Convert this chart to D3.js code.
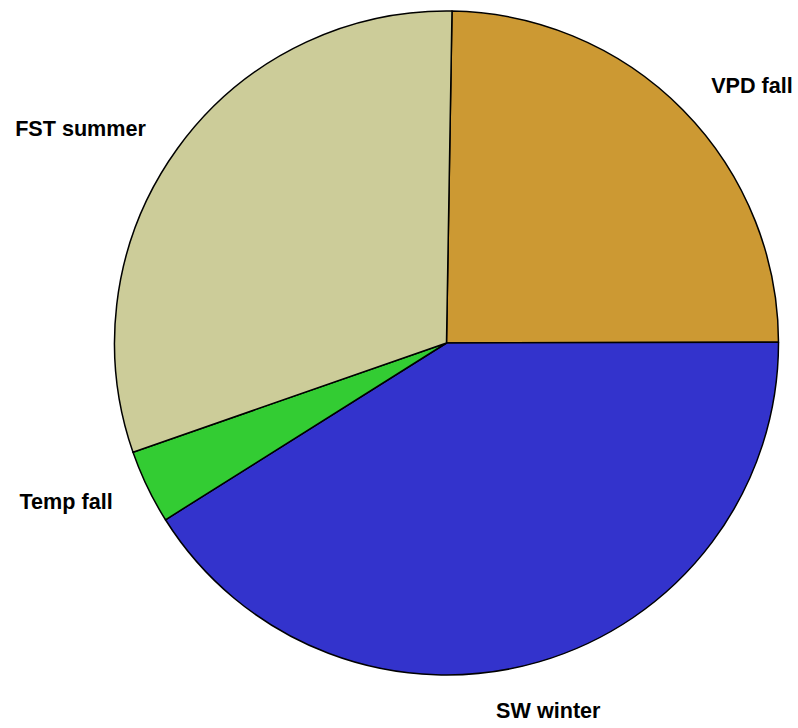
<html>
<head>
<script src="https://d3js.org/d3.v7.min.js"></script>
<style>
	body { margin: 0; background: white; }
	text { font-family: "Liberation Sans", Arial, sans-serif; font-weight: bold; font-size: 21.6px; }
</style>
</head>
<body>
<svg width=798 height=728></svg>
<script>
	// slices in drawing order, clockwise from 12 o'clock
	var labels = ["VPD fall", "SW winter", "Temp fall", "FST summer"];
	var values = [24.7, 41.1, 3.6, 30.6];
	var colors = ["#cc9933", "#3333cc", "#33cc33", "#cccc99"];

	var cx = 446.5, cy = 343, radius = 332, labelRadius = 366;
	var start = 0.95 * Math.PI / 180;

	var data = labels.map(function (d, i) { return { label: d, value: values[i], color: colors[i] }; });

	var pie = d3.pie().sort(null).value(function (d) { return d.value; })
		.startAngle(start).endAngle(start + 2 * Math.PI);
	var arc = d3.arc().innerRadius(0).outerRadius(radius);

	var g = d3.select("svg").append("g")
		.attr("transform", "translate(" + cx + "," + cy + ")");

	var arcs = pie(data);

	g.selectAll("path").data(arcs).enter().append("path")
		.attr("d", arc)
		.attr("fill", function (d) { return d.data.color; })
		.attr("stroke", "black")
		.attr("stroke-width", 1.5)
		.attr("stroke-linejoin", "round");

	// labels outside, anchored by which side of the pie they sit on
	g.selectAll("text").data(arcs).enter().append("text")
		.each(function (d) {
			var a = (d.startAngle + d.endAngle) / 2;
			var x = labelRadius * Math.sin(a), y = -labelRadius * Math.cos(a);
			var s = Math.sin(a);
			var anchor = s > 0.35 ? "start" : (s < -0.35 ? "end" : "middle");
			var dx = anchor == "start" ? 4 : (anchor == "end" ? -4 : 0);
			var dy = anchor == "middle" ? 23 : 7;
			d3.select(this)
				.attr("x", x + dx)
				.attr("y", y + dy)
				.attr("text-anchor", anchor)
				.text(d.data.label);
		});
</script>
</body>
</html>
